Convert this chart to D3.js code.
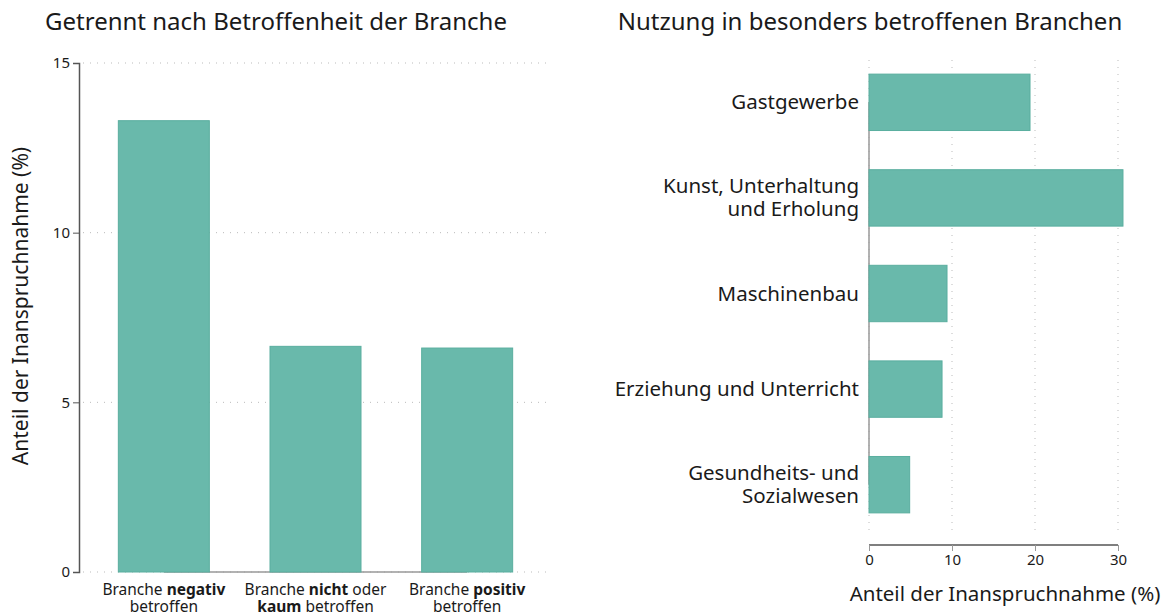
<!DOCTYPE html>
<meta charset="utf-8">
<script src="https://d3js.org/d3.v7.min.js"></script>
<style>
  body { margin: 0; background: #fff; }
  text { font-family: "Noto Sans", sans-serif; fill: #1a1a1a; }
</style>
<svg id="chart" width="1170" height="615"></svg>
<script>
// left panel data
var groups = [["Branche ", "negativ", "", "betroffen"], ["Branche ", "nicht", " oder", "kaum|betroffen"], ["Branche ", "positiv", "", "betroffen"]];
var groupValues = [13.3, 6.65, 6.6];
var leftTicks = [0, 5, 10, 15];

// right panel data
var branches = [["Gastgewerbe"], ["Kunst, Unterhaltung", "und Erholung"], ["Maschinenbau"], ["Erziehung und Unterricht"], ["Gesundheits- und", "Sozialwesen"]];
var branchValues = [19.4, 30.6, 9.4, 8.8, 4.9];
var rightTicks = [0, 10, 20, 30];

var fill = "#69b9ab", stroke = "#5aae9f";
var svg = d3.select("#chart");

// ---------- left chart
var y = d3.scaleLinear().domain([0, 15]).range([572, 63]);
var x = d3.scaleBand().domain(d3.range(groups.length)).range([88, 543]).paddingInner(0.4).paddingOuter(0.2);

svg.append("text").attr("x", 276).attr("y", 30).attr("text-anchor", "middle")
  .style("font-size", "24px").text("Getrennt nach Betroffenheit der Branche");

var gl = svg.append("g");
gl.selectAll(".grid").data(leftTicks).enter().append("line")
  .attr("x1", 83).attr("x2", 550)
  .attr("y1", function(d) { return y(d); }).attr("y2", function(d) { return y(d); })
  .attr("stroke", "#bbb").attr("stroke-dasharray", "1,6");

// baseline between outer bar centres
gl.append("line").attr("x1", x(0) + x.bandwidth() / 2).attr("x2", x(2) + x.bandwidth() / 2)
  .attr("y1", y(0)).attr("y2", y(0)).attr("stroke", "#999").attr("stroke-width", 1.5);

gl.selectAll("rect").data(groupValues).enter().append("rect")
  .attr("x", function(d, i) { return x(i); }).attr("width", x.bandwidth())
  .attr("y", function(d) { return y(d); }).attr("height", function(d) { return y(0) - y(d); })
  .attr("fill", fill).attr("stroke", stroke).attr("stroke-width", 1);

var yAxis = gl.append("g").attr("transform", "translate(79,0)")
  .call(d3.axisLeft(y).tickValues(leftTicks).tickSize(6));
yAxis.select(".domain").attr("stroke", "#555").attr("stroke-width", 1.5);
yAxis.selectAll(".tick line").attr("stroke", "#555");
yAxis.selectAll("text").style("font-size", "15px").attr("fill", "#1a1a1a").attr("x", -9);

gl.append("text").attr("transform", "translate(28,306) rotate(-90)").attr("text-anchor", "middle")
  .style("font-size", "21px").text("Anteil der Inanspruchnahme (%)");

groups.forEach(function(g, i) {
  var cx = x(i) + x.bandwidth() / 2;
  var t1 = gl.append("text").attr("x", cx).attr("y", 595).attr("text-anchor", "middle").style("font-size", "15.5px");
  t1.append("tspan").text(g[0]);
  t1.append("tspan").style("font-weight", "bold").text(g[1]);
  t1.append("tspan").text(g[2]);
  var t2 = gl.append("text").attr("x", cx).attr("y", 612).attr("text-anchor", "middle").style("font-size", "15.5px");
  var parts = g[3].split("|");
  if (parts.length > 1) {
    t2.append("tspan").style("font-weight", "bold").text(parts[0] + " ");
    t2.append("tspan").text(parts[1]);
  } else {
    t2.text(parts[0]);
  }
});

// ---------- right chart
var xr = d3.scaleLinear().domain([0, 30]).range([869, 1118]);
var yr = d3.scaleBand().domain(d3.range(branches.length)).range([55, 532]).paddingInner(0.41).paddingOuter(0.2);

svg.append("text").attr("x", 870).attr("y", 30).attr("text-anchor", "middle")
  .style("font-size", "24px").text("Nutzung in besonders betroffenen Branchen");

var gr = svg.append("g");
gr.selectAll(".grid").data(rightTicks).enter().append("line")
  .attr("y1", 60).attr("y2", 535)
  .attr("x1", function(d) { return xr(d); }).attr("x2", function(d) { return xr(d); })
  .attr("stroke", "#bbb").attr("stroke-dasharray", "1,6");

gr.append("line").attr("x1", xr(0)).attr("x2", xr(0))
  .attr("y1", yr(0) + yr.bandwidth() / 2).attr("y2", yr(4) + yr.bandwidth() / 2)
  .attr("stroke", "#999").attr("stroke-width", 1.5);

gr.selectAll("rect").data(branchValues).enter().append("rect")
  .attr("x", xr(0)).attr("width", function(d) { return xr(d) - xr(0); })
  .attr("y", function(d, i) { return yr(i); }).attr("height", yr.bandwidth())
  .attr("fill", fill).attr("stroke", stroke).attr("stroke-width", 1);

var xAxis = gr.append("g").attr("transform", "translate(0,545)")
  .call(d3.axisBottom(xr).tickValues(rightTicks).tickSize(6).tickSizeOuter(0));
xAxis.select(".domain").attr("stroke", "#555").attr("stroke-width", 1.5)
  .attr("d", "M" + xr(0) + ",0H" + xr(30));
xAxis.selectAll(".tick line").attr("stroke", "#999").attr("y1", 0).attr("y2", 6);
xAxis.selectAll("text").style("font-size", "15px").attr("fill", "#1a1a1a").attr("y", 9);

gr.append("text").attr("x", 1005).attr("y", 601).attr("text-anchor", "middle")
  .style("font-size", "20.5px").text("Anteil der Inanspruchnahme (%)");

branches.forEach(function(lines, i) {
  var cy = yr(i) + yr.bandwidth() / 2;
  var lh = 23;
  var top = cy - (lines.length - 1) * lh / 2 + 7;
  lines.forEach(function(l, j) {
    gr.append("text").attr("x", 859).attr("y", top + j * lh).attr("text-anchor", "end")
      .style("font-size", "20.5px").text(l);
  });
});
</script>
